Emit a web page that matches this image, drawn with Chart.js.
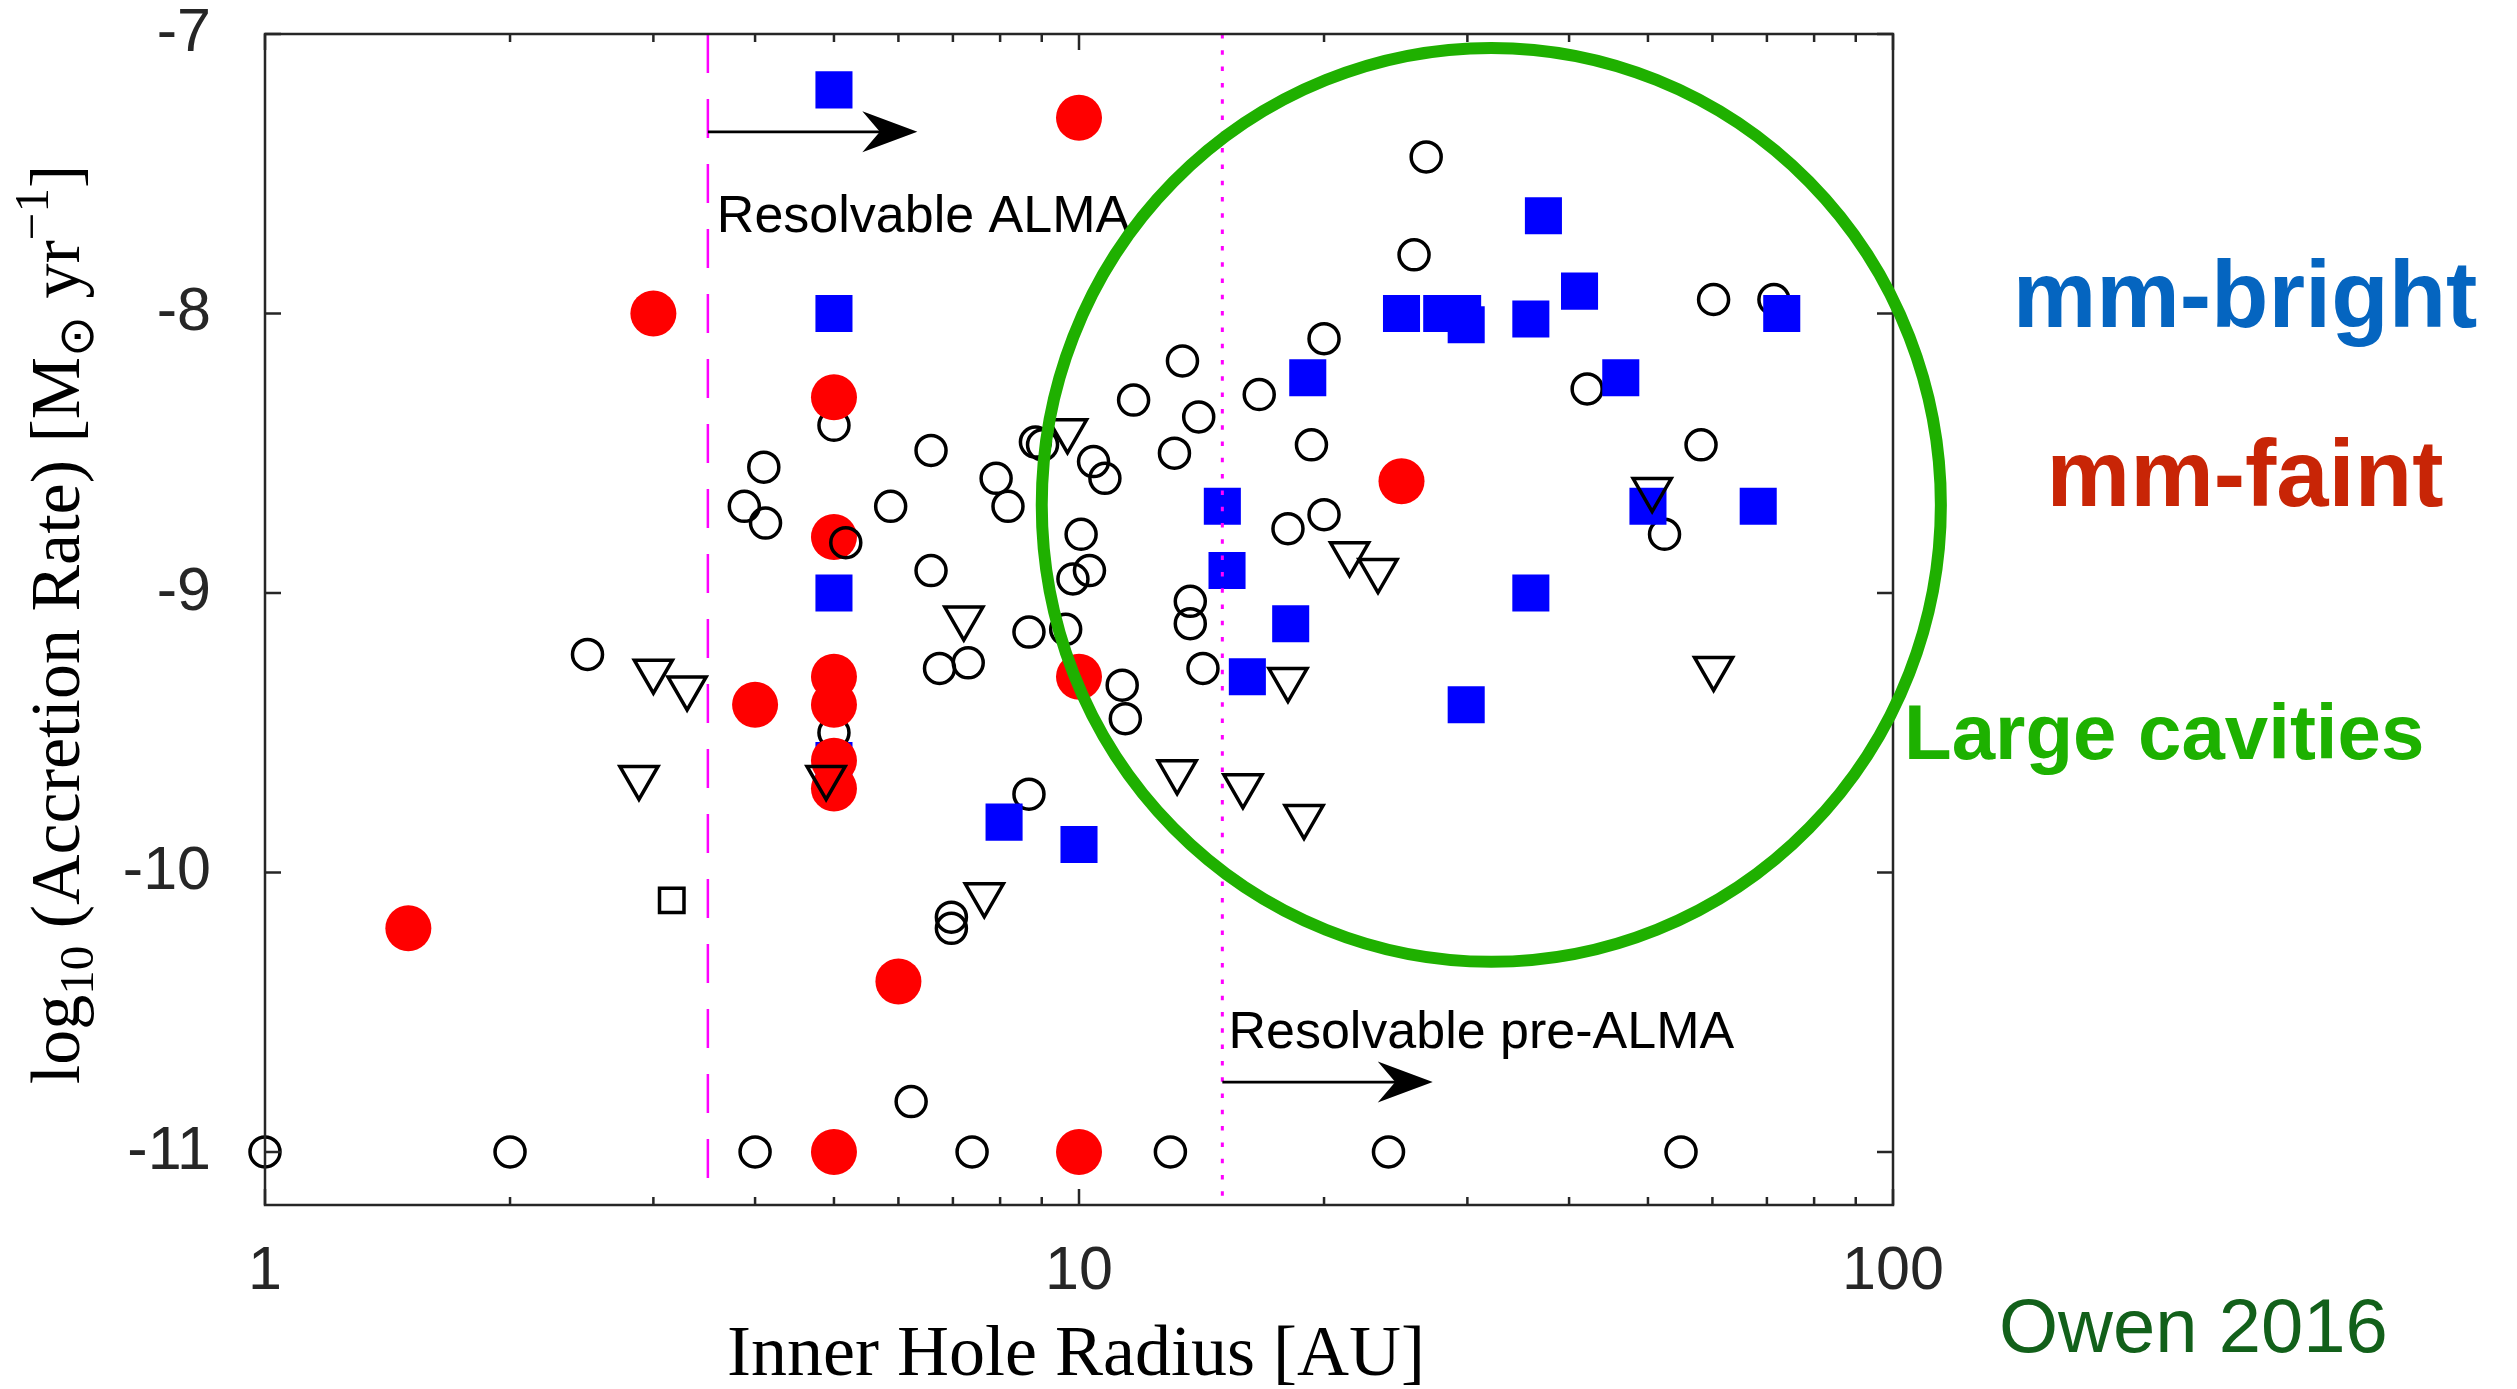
<!DOCTYPE html>
<html>
<head>
<meta charset="utf-8">
<script src="https://cdn.jsdelivr.net/npm/chart.js@4.4.1/dist/chart.umd.min.js"></script>
<style>
  html, body { margin: 0; padding: 0; background: #fff; }
  #wrap { width: 2517px; height: 1389px; position: relative; }
</style>
</head>
<body>
<div id="wrap"><canvas id="owen-chart"></canvas></div>
<script>
const X_TICKS = [1, 10, 100];
const Y_TICKS = [-7, -8, -9, -10, -11];

// [inner hole radius (AU), log10 accretion rate]
const OPEN_CIRCLES = [
    [1, -11], [2, -11], [4, -11], [7.39, -11], [12.95, -11], [24, -11], [54.9, -11],
    [2.49, -9.22], [4.1, -8.55], [3.88, -8.69], [4.12, -8.75], [5, -8.4], [5, -9.5],
    [6.58, -8.49], [5.87, -8.69], [6.58, -8.92], [7.91, -8.59], [8.18, -8.69],
    [8.84, -8.46], [9.02, -8.47], [10.42, -8.53], [10.76, -8.59], [10.06, -8.79],
    [10.3, -8.92], [9.83, -8.95], [13.4, -8.17], [11.67, -8.31], [16.65, -8.29],
    [14.03, -8.37], [13.1, -8.5], [20, -8.09], [19.3, -8.47], [18.06, -8.77],
    [20, -8.72], [13.7, -9.03], [13.7, -9.11], [8.68, -9.14], [9.63, -9.13],
    [14.2, -9.27], [6.74, -9.27], [7.31, -9.25], [11.3, -9.33], [11.4, -9.45],
    [8.68, -9.72], [6.97, -10.16], [6.97, -10.2], [6.22, -10.82], [26.7, -7.44],
    [25.8, -7.79], [60.2, -7.95], [71.4, -7.95], [42.1, -8.27], [58.1, -8.47],
    [52.4, -8.79]
];
const OPEN_CIRCLES_FRONT = [[5.17, -8.82]];

const MM_BRIGHT = [
    [5, -7.2], [5, -8.0], [5, -9.0], [5, -9.6], [8.09, -9.82], [10, -9.9],
    [15, -8.69], [15.2, -8.92], [16.1, -9.3], [18.2, -9.11], [19.1, -8.23],
    [24.9, -8.0], [27.9, -8.0], [29.6, -8.0], [29.9, -8.04], [35.9, -8.02],
    [37.2, -7.65], [41.2, -7.92], [46.3, -8.23], [50, -8.69], [68.3, -8.69],
    [73, -8.0], [35.9, -9.0], [29.9, -9.4]
];

const MM_FAINT = [
    [3, -8.0], [10, -7.3], [5, -8.3], [5, -8.8], [4, -9.4], [5, -9.3], [5, -9.4],
    [5, -9.6], [5, -9.7], [10, -9.3], [1.5, -10.2], [6, -10.39], [5, -11],
    [10, -11], [24.9, -8.6]
];

const UPPER_LIMITS = [
    [3, -9.28], [3.3, -9.34], [2.88, -9.66], [4.89, -9.66], [7.22, -9.09],
    [9.68, -8.42], [7.65, -10.08], [13.2, -9.64], [15.9, -9.69], [18.06, -9.31],
    [18.9, -9.8], [21.5, -8.86], [23.3, -8.92], [50.6, -8.63], [60.2, -9.27]
];

const OPEN_SQUARES = [[3.16, -10.1]];

const ALMA_LIMIT = 3.5;
const PRE_ALMA_LIMIT = 15;

const toPoints = (arr) => arr.map(p => ({x: p[0], y: p[1]}));

function markerDataset(data, style, order) {
    return Object.assign({
        data: toPoints(data),
        showLine: false,
        clip: false,
        order: order
    }, style);
}

const openStyle = {
    pointStyle: 'circle', pointRadius: 15, pointBorderWidth: 3.5,
    pointBorderColor: '#000', pointBackgroundColor: 'rgba(0,0,0,0)'
};

const decorations = {
    id: 'decorations',
    afterDraw(chart) {
        const {ctx, chartArea: a, scales} = chart;
        const sx = scales.x, sy = scales.y;
        ctx.save();

        // resolution limits
        ctx.strokeStyle = '#ff00ff';
        ctx.lineWidth = 2.5;
        ctx.setLineDash([39, 26]);
        let px = sx.getPixelForValue(ALMA_LIMIT);
        ctx.beginPath(); ctx.moveTo(px, a.top); ctx.lineTo(px, a.bottom); ctx.stroke();
        ctx.lineWidth = 3;
        ctx.setLineDash([4.5, 11.8]);
        px = sx.getPixelForValue(PRE_ALMA_LIMIT);
        ctx.beginPath(); ctx.moveTo(px, a.top); ctx.lineTo(px, a.bottom); ctx.stroke();
        ctx.setLineDash([]);

        // axes box with inward ticks
        ctx.strokeStyle = '#262626';
        ctx.lineWidth = 2.5;
        ctx.strokeRect(a.left, a.top, a.right - a.left, a.bottom - a.top);
        ctx.beginPath();
        for (let d = 1; d <= 10; d *= 10) {
            for (let k = 1; k <= 10; k++) {
                const v = k * d;
                if (v < 1 || v > 100 || (k === 10 && d === 1)) continue;
                const len = X_TICKS.includes(v) ? 16 : 8;
                const p = sx.getPixelForValue(v);
                ctx.moveTo(p, a.bottom); ctx.lineTo(p, a.bottom - len);
                ctx.moveTo(p, a.top); ctx.lineTo(p, a.top + len);
            }
        }
        Y_TICKS.forEach(v => {
            const p = sy.getPixelForValue(v);
            ctx.moveTo(a.left, p); ctx.lineTo(a.left + 16, p);
            ctx.moveTo(a.right, p); ctx.lineTo(a.right - 16, p);
        });
        ctx.stroke();

        // arrows
        function arrow(x0, x1, yv) {
            const p0 = sx.getPixelForValue(x0), p1 = sx.getPixelForValue(x1);
            const py = sy.getPixelForValue(yv);
            ctx.strokeStyle = '#000';
            ctx.fillStyle = '#000';
            ctx.lineWidth = 2.7;
            ctx.beginPath(); ctx.moveTo(p0, py); ctx.lineTo(p1 - 30, py); ctx.stroke();
            ctx.beginPath();
            ctx.moveTo(p1, py);
            ctx.lineTo(p1 - 55, py - 20.5);
            ctx.lineTo(p1 - 37.5, py);
            ctx.lineTo(p1 - 55, py + 20.5);
            ctx.closePath();
            ctx.fill();
        }
        arrow(ALMA_LIMIT, 6.33, -7.35);
        arrow(PRE_ALMA_LIMIT, 27.2, -10.75);

        ctx.fillStyle = '#000';
        ctx.font = '52px "Liberation Sans", Arial, Helvetica, sans-serif';
        ctx.textAlign = 'left';
        ctx.textBaseline = 'alphabetic';
        ctx.fillText('Resolvable ALMA', sx.getPixelForValue(3.59), sy.getPixelForValue(-7.71));
        ctx.fillText('Resolvable pre-ALMA', sx.getPixelForValue(15.26), sy.getPixelForValue(-10.629));

        // large-cavity ellipse
        const eL = sx.getPixelForValue(9.0), eR = sx.getPixelForValue(114.5);
        const eT = sy.getPixelForValue(-7.05), eB = sy.getPixelForValue(-10.32);
        ctx.strokeStyle = '#1fb000';
        ctx.lineWidth = 12;
        ctx.beginPath();
        ctx.ellipse((eL + eR) / 2, (eT + eB) / 2, (eR - eL) / 2, (eB - eT) / 2, 0, 0, Math.PI * 2);
        ctx.stroke();

        // axis titles
        ctx.fillStyle = '#000';
        ctx.font = '72px "Liberation Serif", "Times New Roman", serif';
        ctx.textAlign = 'center';
        ctx.fillText('Inner Hole Radius [AU]', (a.left + a.right) / 2 - 3, 1375);

        const size = 70;
        const parts = [
            {t: 'log', s: 1, dy: 0},
            {t: '10', s: 0.7, dy: 0.2},
            {t: ' (Accretion Rate) [M', s: 1, dy: 0},
            {t: '\u2299', s: 0.7, dy: 0.2},
            {t: ' yr', s: 1, dy: 0},
            {t: '\u22121', s: 0.7, dy: -0.45},
            {t: ']', s: 1, dy: 0}
        ];
        const fontFor = (s) => (size * s) + 'px "Liberation Serif", "Times New Roman", serif';
        let total = 0;
        parts.forEach(p => { ctx.font = fontFor(p.s); p.w = ctx.measureText(p.t).width; total += p.w; });
        ctx.save();
        ctx.translate(79, (a.top + a.bottom) / 2 + 5);
        ctx.rotate(-Math.PI / 2);
        ctx.textAlign = 'left';
        let cx = -total / 2;
        parts.forEach(p => {
            ctx.font = fontFor(p.s);
            ctx.fillText(p.t, cx, p.dy * size);
            cx += p.w;
        });
        ctx.restore();

        // side labels
        ctx.textAlign = 'center';
        ctx.font = 'bold 94px "Liberation Sans", Arial, Helvetica, sans-serif';
        ctx.fillStyle = '#0565c0';
        ctx.fillText('mm-bright', 2245, 327);
        ctx.fillStyle = '#c82506';
        ctx.fillText('mm-faint', 2245, 506);
        ctx.textAlign = 'left';
        ctx.font = 'bold 78px "Liberation Sans", Arial, Helvetica, sans-serif';
        ctx.fillStyle = '#1db100';
        ctx.fillText('Large cavities', 1904, 759);
        ctx.font = '76px "Liberation Sans", Arial, Helvetica, sans-serif';
        ctx.fillStyle = '#12601a';
        ctx.fillText('Owen 2016', 1999, 1352);

        ctx.restore();
    }
};

const tickFont = {family: '"Liberation Sans", Arial, Helvetica, sans-serif', size: 61};

new Chart(document.getElementById('owen-chart'), {
    type: 'scatter',
    data: {
        datasets: [
            markerDataset(OPEN_CIRCLES, openStyle, 6),
            markerDataset(MM_BRIGHT, {
                pointStyle: 'rect', pointRadius: 26.2, pointBorderWidth: 0,
                pointBackgroundColor: '#0000ff', pointBorderColor: '#0000ff'
            }, 5),
            markerDataset(MM_FAINT, {
                pointStyle: 'circle', pointRadius: 23, pointBorderWidth: 0,
                pointBackgroundColor: '#ff0000', pointBorderColor: '#ff0000'
            }, 4),
            markerDataset(OPEN_CIRCLES_FRONT, openStyle, 3),
            markerDataset(UPPER_LIMITS, {
                pointStyle: 'triangle', pointRotation: 180, pointRadius: 22, pointBorderWidth: 3.5,
                pointBorderColor: '#000', pointBackgroundColor: 'rgba(0,0,0,0)'
            }, 2),
            markerDataset(OPEN_SQUARES, {
                pointStyle: 'rect', pointRadius: 17.3, pointBorderWidth: 3.5,
                pointBorderColor: '#000', pointBackgroundColor: 'rgba(0,0,0,0)'
            }, 1)
        ]
    },
    options: {
        responsive: true,
        maintainAspectRatio: false,
        animation: false,
        devicePixelRatio: 1,
        layout: {padding: {left: 0, top: 34, right: 624, bottom: 0}},
        plugins: {legend: {display: false}, tooltip: {enabled: false}},
        scales: {
            x: {
                type: 'logarithmic',
                min: 1,
                max: 100,
                grid: {display: false, drawTicks: false, tickLength: 0},
                border: {display: false},
                afterBuildTicks: (scale) => { scale.ticks = X_TICKS.map(v => ({value: v})); },
                afterFit: (scale) => {
                    scale.height = 184;
                    scale.paddingLeft = 0;
                    scale.paddingRight = 0;
                },
                ticks: {
                    autoSkip: false, maxRotation: 0, padding: 31,
                    color: '#262626', font: tickFont,
                    callback: (v) => String(v)
                }
            },
            y: {
                type: 'linear',
                min: -11.19,
                max: -7,
                grid: {display: false, drawTicks: false, tickLength: 0},
                border: {display: false},
                afterBuildTicks: (scale) => { scale.ticks = Y_TICKS.map(v => ({value: v})); },
                afterFit: (scale) => {
                    scale.width = 265;
                    scale.paddingTop = 0;
                    scale.paddingBottom = 0;
                },
                ticks: {
                    autoSkip: false, padding: 54,
                    color: '#262626', font: tickFont,
                    callback: (v) => String(v)
                }
            }
        }
    },
    plugins: [decorations]
});
</script>
</body>
</html>
